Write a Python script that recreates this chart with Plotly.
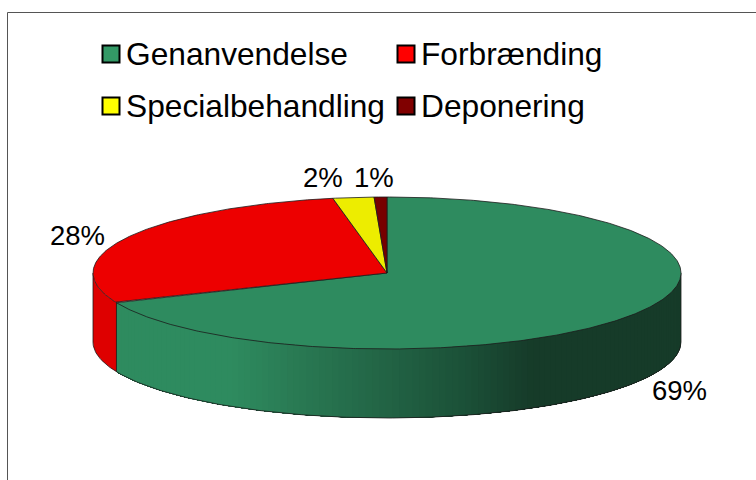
import numpy as np
import plotly.graph_objects as go

categories = ["Genanvendelse", "Forbrænding", "Specialbehandling", "Deponering"]
values = [68.6, 28.45, 2.25, 0.7]
top_colors = ["#2E8B5F", "#ED0000", "#EDED00", "#770000"]
legend_colors = ["#339966", "#FF0000", "#FFFF00", "#800000"]
side_red = "#DE0000"
label_pos = [(679, 390), (77, 235.5), (323, 177), (374, 177)]
legend_pos = [(102, 54), (397, 54), (102, 106), (397, 106)]

CX, CY, RX, RY, DEPTH = 387.0, 273.0, 294.0, 76.0, 69.0
EDGE = "#1c1c1c"

def pt(deg, dz=0.0):
    a = np.radians(deg)
    return CX + RX * np.sin(a), CY - RY * np.cos(a) + dz

def side_color(x):
    xs = [116, 235, 290, 387, 470, 535, 690]
    cs = np.array([[0x2E,0x8B,0x5F],[0x2E,0x8B,0x5F],[0x2A,0x7C,0x55],[0x22,0x64,0x45],[0x1B,0x50,0x37],[0x16,0x3B,0x29],[0x16,0x3B,0x29]])
    rgb = [int(round(np.interp(x, xs, cs[:, i]))) for i in range(3)]
    return f"rgb({rgb[0]},{rgb[1]},{rgb[2]})"

fig = go.Figure()

def poly(xs, ys, fill=None, line=None, width=0.8):
    fig.add_trace(go.Scatter(
        x=list(xs), y=list(ys), mode="lines", showlegend=False, hoverinfo="skip",
        fill="toself" if fill else None, fillcolor=fill,
        line=dict(color=line or fill, width=width), ))

cum = np.concatenate([[0], np.cumsum(values)]) / sum(values) * 360
a_green = cum[1]

# side wall: green gradient, painted right to left, each band covering the rest
seg = np.linspace(90, a_green, 121)[:-1]
for a0 in seg:
    arc = np.linspace(a0, a_green, 60)
    x0, y0 = pt(arc)
    x1, y1 = pt(arc[::-1], DEPTH)
    poly(np.r_[x0, x1], np.r_[y0, y1], fill=side_color(float(pt(a0)[0])), width=0)

# side wall: red
arc = np.linspace(a_green, 270, 30)
x0, y0 = pt(arc)
x1, y1 = pt(arc[::-1], DEPTH)
poly(np.r_[x0, x1], np.r_[y0, y1], fill=side_red, width=0)

# side outlines
arc = np.linspace(90, 270, 240)
x1, y1 = pt(arc, DEPTH)
poly(x1, y1, line=EDGE)
for a in (90, a_green, 270):
    xa, ya = pt(a)
    xb, yb = pt(a, DEPTH)
    poly([xa, xb], [ya, yb], line=EDGE)

# top faces
for i in range(len(values)):
    arc = np.linspace(cum[i], cum[i + 1], max(3, int(cum[i + 1] - cum[i]) * 2))
    x, y = pt(arc)
    poly(np.r_[CX, x, CX], np.r_[CY, y, CY], fill=top_colors[i], line=EDGE)

# legend swatches
shapes = []
for (lx, ly), c in zip(legend_pos, legend_colors):
    shapes.append(dict(type="rect", x0=lx + 0.5, x1=lx + 17.5, y0=ly - 8.5, y1=ly + 8.5,
                       fillcolor=c, line=dict(color="#000000", width=2)))
# outer frame
shapes.append(dict(type="line", x0=7.5, x1=7.5, y0=12.5, y1=480, line=dict(color="#555555", width=1)))
shapes.append(dict(type="line", x0=7.5, x1=756, y0=12.5, y1=12.5, line=dict(color="#555555", width=1)))

annotations = []
for (lx, ly), name in zip(legend_pos, categories):
    annotations.append(dict(x=lx + 25, y=ly, text=name, showarrow=False, xanchor="left", yanchor="middle",
                            xshift=-3, font=dict(family="Liberation Sans", size=31.7, color="#000000")))
for (px, py), v in zip(label_pos, values):
    annotations.append(dict(x=px, y=py, text=f"{round(v)}%", showarrow=False, xanchor="center", yanchor="middle",
                            font=dict(family="Liberation Sans", size=27.5, color="#000000")))

fig.update_layout(
    width=756, height=480, autosize=False,
    margin=dict(l=0, r=0, t=0, b=0),
    paper_bgcolor="white", plot_bgcolor="white",
    xaxis=dict(range=[0, 756], visible=False, fixedrange=True),
    yaxis=dict(range=[480, 0], visible=False, fixedrange=True),
    shapes=shapes, annotations=annotations, showlegend=False,
)
fig.write_html("out.html", config=dict(displayModeBar=False),
               post_script="document.body.style.margin='0';document.documentElement.style.overflow='hidden';")
